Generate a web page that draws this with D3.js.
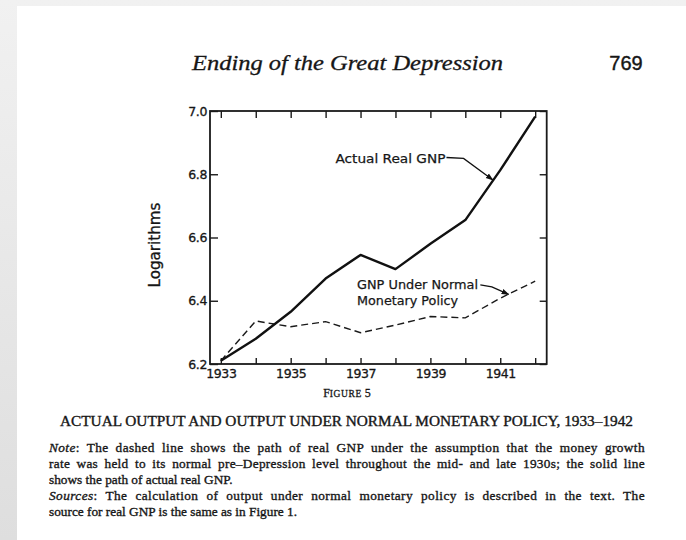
<!DOCTYPE html>
<html lang="en">
<head>
<meta charset="UTF-8">
<title>Ending of the Great Depression - Figure 5</title>
<script src="https://d3js.org/d3.v7.min.js"></script>
<style>
  body { margin: 0; background: #e6e6e6; }
  svg { display: block; }
  .serif { font-family: "Liberation Serif", "DejaVu Serif", serif; fill: #161616; }
  .sans { font-family: "DejaVu Sans", "Liberation Sans", sans-serif; fill: #161616; }
</style>
</head>
<body>
<svg id="chart" width="686" height="540"></svg>
<script>
// data (log of real GNP)
const years = [1933, 1934, 1935, 1936, 1937, 1938, 1939, 1940, 1941, 1942];
const actualGNP = [6.21, 6.28, 6.365, 6.47, 6.545, 6.50, 6.58, 6.655, 6.813, 6.982];
const normalPolicyGNP = [6.21, 6.336, 6.318, 6.334, 6.299, 6.323, 6.35, 6.346, 6.408, 6.462];

const yTicks = [6.2, 6.4, 6.6, 6.8, 7.0];
const xLabelYears = [1933, 1935, 1937, 1939, 1941];

const noteLines = [
  { italic: "Note", rest: ": The dashed line shows the path of real GNP under the assumption that the money growth", justify: true },
  { italic: "", rest: "rate was held to its normal pre\u2013Depression level throughout the mid- and late 1930s; the solid line", justify: true },
  { italic: "", rest: "shows the path of actual real GNP.", justify: false },
  { italic: "Sources", rest: ": The calculation of output under normal monetary policy is described in the text. The", justify: true },
  { italic: "", rest: "source for real GNP is the same as in Figure 1.", justify: false }
];

const svg = d3.select("#chart");

// page background (scanned page look)
const defs = svg.append("defs");
const grad = defs.append("linearGradient").attr("id", "leftEdge")
  .attr("x1", 0).attr("y1", 0).attr("x2", 0).attr("y2", 1);
grad.append("stop").attr("offset", "0%").attr("stop-color", "#f1f1f1");
grad.append("stop").attr("offset", "100%").attr("stop-color", "#dedede");
svg.append("rect").attr("width", 686).attr("height", 540).attr("fill", "url(#leftEdge)");
svg.append("rect").attr("x", 17).attr("y", 6).attr("width", 669).attr("height", 534).attr("fill", "#fff");

// header
svg.append("text").attr("class", "serif")
  .attr("x", 192).attr("y", 70)
  .attr("font-size", 21).attr("font-style", "italic")
  .attr("stroke", "#161616").attr("stroke-width", 0.3)
  .attr("textLength", 311).attr("lengthAdjust", "spacingAndGlyphs")
  .text("Ending of the Great Depression");
svg.append("text").attr("class", "serif")
  .attr("x", 626).attr("y", 70).attr("text-anchor", "middle")
  .style("font-family", "'Liberation Sans', sans-serif")
  .attr("font-size", 20).attr("stroke", "#161616").attr("stroke-width", 0.4)
  .text("769");

// scales
const x = d3.scaleLinear().domain([1932.69, 1942.33]).range([210, 546.7]);
const y = d3.scaleLinear().domain([6.2, 7.0]).range([364, 111]);

const plot = svg.append("g");

// axes with inward ticks
const bottomAxis = plot.append("g").attr("transform", `translate(0,${y(6.2)})`)
  .call(d3.axisBottom(x).tickValues(years).tickSizeInner(-6).tickSizeOuter(0).tickPadding(5)
    .tickFormat(d => xLabelYears.includes(d) ? d : ""));
const topAxis = plot.append("g").attr("transform", `translate(0,${y(7.0)})`)
  .call(d3.axisTop(x).tickValues(years).tickSizeInner(-7).tickSizeOuter(0).tickFormat(""));
const leftAxis = plot.append("g").attr("transform", `translate(${x(1932.69)},0)`)
  .call(d3.axisLeft(y).tickValues(yTicks).tickSizeInner(-8).tickSizeOuter(0).tickPadding(3)
    .tickFormat(d3.format(".1f")));
const rightAxis = plot.append("g").attr("transform", `translate(${x(1942.33)},0)`)
  .call(d3.axisRight(y).tickValues(yTicks).tickSizeInner(-7).tickSizeOuter(0).tickFormat(""));

[bottomAxis, topAxis, leftAxis, rightAxis].forEach(a => {
  a.select(".domain").remove();
  a.selectAll("line").attr("stroke", "#1a1a1a").attr("stroke-width", 1.4);
  a.selectAll("text").attr("class", "sans").attr("font-size", 12.5).attr("fill", "#161616")
    .attr("stroke", "#161616").attr("stroke-width", 0.3).attr("letter-spacing", -0.4);
});

// frame
plot.append("rect")
  .attr("x", x(1932.69)).attr("y", y(7.0))
  .attr("width", x(1942.33) - x(1932.69)).attr("height", y(6.2) - y(7.0))
  .attr("fill", "none").attr("stroke", "#1a1a1a").attr("stroke-width", 1.8);

// lines
const line = d3.line().x((d, i) => x(years[i])).y(d => y(d));
plot.append("path").datum(normalPolicyGNP)
  .attr("d", line).attr("fill", "none")
  .attr("stroke", "#1a1a1a").attr("stroke-width", 1.4).attr("stroke-dasharray", "7,4");
plot.append("path").datum(actualGNP)
  .attr("d", line).attr("fill", "none")
  .attr("stroke", "#111").attr("stroke-width", 2.4).attr("stroke-linejoin", "round");

// y label
svg.append("text").attr("class", "sans")
  .attr("transform", "translate(160,245) rotate(-90)")
  .attr("text-anchor", "middle").attr("font-size", 15)
  .attr("stroke", "#161616").attr("stroke-width", 0.3)
  .attr("textLength", 85).attr("lengthAdjust", "spacingAndGlyphs")
  .text("Logarithms");

// annotations with arrows
defs.append("marker").attr("id", "arrow")
  .attr("viewBox", "0 0 10 10").attr("refX", 9).attr("refY", 5)
  .attr("markerWidth", 6).attr("markerHeight", 6).attr("orient", "auto")
  .append("path").attr("d", "M0,1.5L10,5L0,8.5Z").attr("fill", "#111");

const arrowLine = d3.line().x(d => x(d[0])).y(d => y(d[1]));
const actualArrow = [[1939.46, 6.853], [1939.95, 6.850], [1940.79, 6.782]];
const normalArrow = [[1940.43, 6.450], [1940.76, 6.444], [1941.24, 6.420]];
[actualArrow, normalArrow].forEach(pts => {
  plot.append("path").attr("d", arrowLine(pts)).attr("fill", "none")
    .attr("stroke", "#111").attr("stroke-width", 1.3).attr("marker-end", "url(#arrow)");
});

const annotations = [
  { text: "Actual Real GNP", at: [1939.43, 6.851], anchor: "end", len: 110 },
  { text: "GNP Under Normal", at: [1936.9, 6.45], anchor: "start", len: 121 },
  { text: "Monetary Policy", at: [1936.9, 6.402], anchor: "start", len: 101 }
];
annotations.forEach(a => {
  plot.append("text").attr("class", "sans")
    .attr("x", x(a.at[0])).attr("y", y(a.at[1])).attr("dy", "0.35em")
    .attr("text-anchor", a.anchor).attr("font-size", 13)
    .attr("stroke", "#161616").attr("stroke-width", 0.25)
    .attr("textLength", a.len).attr("lengthAdjust", "spacingAndGlyphs")
    .text(a.text);
});

// figure number in small caps
const fig = svg.append("text").attr("class", "serif")
  .attr("x", 347).attr("y", 397).attr("text-anchor", "middle")
  .attr("stroke", "#161616").attr("stroke-width", 0.3);
fig.append("tspan").attr("font-size", 12).text("F");
fig.append("tspan").attr("font-size", 9.5).attr("letter-spacing", 0.6).text("IGURE");
fig.append("tspan").attr("font-size", 12).text(" 5");

// caption
svg.append("text").attr("class", "serif")
  .attr("x", 60).attr("y", 426).attr("font-size", 14)
  .attr("stroke", "#161616").attr("stroke-width", 0.35)
  .attr("textLength", 573).attr("lengthAdjust", "spacingAndGlyphs")
  .text("ACTUAL OUTPUT AND OUTPUT UNDER NORMAL MONETARY POLICY, 1933\u20131942");

// note and sources, justified lines share the slack between letters and words
const noteLeft = 49, noteWidth = 596;
noteLines.forEach((ln, i) => {
  const t = svg.append("text").attr("class", "serif")
    .attr("x", noteLeft).attr("y", 452 + i * 16).attr("font-size", 13.3)
    .attr("stroke", "#161616").attr("stroke-width", 0.35);
  if (ln.italic) t.append("tspan").attr("font-style", "italic").text(ln.italic);
  t.append("tspan").text(ln.rest);
  if (ln.justify) {
    const full = ln.italic + ln.rest;
    const natural = t.node().getComputedTextLength();
    const slack = noteWidth - natural;
    const letterSp = 0.4 * slack / full.length;
    t.attr("letter-spacing", letterSp);
    const spaced = t.node().getComputedTextLength();
    const spaces = full.split(" ").length - 1;
    t.attr("word-spacing", (noteWidth - spaced) / spaces);
  }
});
</script>
</body>
</html>
